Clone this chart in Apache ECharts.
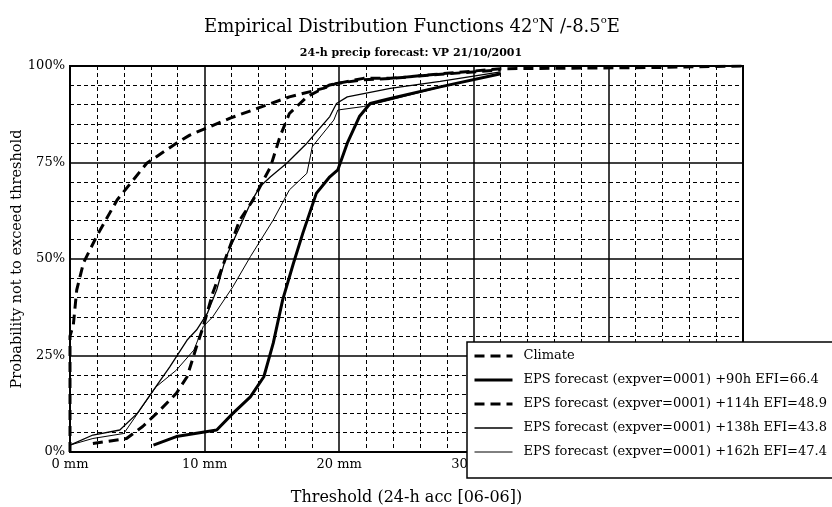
<!DOCTYPE html>
<html>
<head>
<meta charset="utf-8">
<script src="https://cdn.jsdelivr.net/npm/echarts@6/dist/echarts.min.js"></script>
<style>
  html, body { margin: 0; padding: 0; background: #fff; }
  #chart { width: 832px; height: 507px; }
</style>
</head>
<body>
<div id="chart"></div>
<script>
// thresholds (mm) and probability not to exceed (%)
const climate = [[0, 0], [0, 30], [0.25, 33], [0.5, 42], [1, 49], [1.5, 52.5], [2, 56], [3.5, 65.3],
  [5.7, 74.8], [7.9, 80], [8.9, 82.1], [11.9, 86.5], [13.9, 89], [16.3, 92], [18.8, 94.2],
  [19.8, 95.5], [21.8, 96.4], [24, 96.8], [27, 97.8], [32, 99.3], [43.3, 99.6], [50, 100]]
const fc90 = [[6.2, 1.8], [7.9, 4], [10.9, 5.7], [12.1, 10], [13.4, 14.3], [14.4, 19.5], [15.1, 28.2],
  [15.8, 39.4], [16.6, 48.9], [17.3, 56.7], [18.3, 67], [19.3, 71.3], [19.9, 73.1], [20.6, 80],
  [21.5, 86.9], [22.3, 90.3], [23.8, 91.6], [27.5, 94.6], [32, 98]]
const fc114 = [[1.7, 2.2], [4.2, 3.5], [5.4, 6.6], [6.7, 10.9], [7.9, 15.2], [8.7, 19.5], [9.4, 27.3],
  [9.9, 32.5], [10.6, 41.1], [11.6, 50.6], [12.6, 60], [13.6, 65.3], [14.9, 73.9], [15.6, 81.7],
  [16.3, 87.7], [17.6, 92], [19.3, 95.1], [21.8, 96.8], [23.8, 96.8], [27, 97.7], [32, 99]]
const fc138 = [[0, 1.8], [1.7, 4.4], [3.7, 5.7], [5, 10], [6.2, 16], [7.4, 22], [8.7, 29], [9.4, 31.6],
  [10.2, 35.9], [10.9, 42], [11.6, 50.6], [13.4, 64.4], [14.1, 68.7], [14.9, 71.3], [16.1, 74.8],
  [17.6, 80], [19.3, 86.9], [19.8, 90.3], [20.6, 92], [23.8, 94.2], [27.5, 96], [32, 98.5]]
const fc162 = [[0, 1.8], [1.7, 3.5], [4, 4.8], [5.2, 10.9], [6.4, 16.9], [7.9, 21.2], [9.2, 26.4],
  [9.9, 32.5], [10.6, 35], [12.1, 42.8], [13.4, 50.6], [15.1, 60.1], [16.3, 67.9], [17.6, 72.2],
  [17.8, 75.6], [18, 79.1], [19.6, 86], [19.9, 88.6], [21.8, 89.5], [23.8, 91.2], [27.5, 94.5], [32, 98]]

const seriesNames = [
  'Climate',
  'EPS forecast (expver=0001) +90h EFI=66.4',
  'EPS forecast (expver=0001) +114h EFI=48.9',
  'EPS forecast (expver=0001) +138h EFI=43.8',
  'EPS forecast (expver=0001) +162h EFI=47.4'
]

const serif = 'DejaVu Serif'
const chart = echarts.init(document.getElementById('chart'))

function curve(name, data, width, type) {
  return {
    name: name,
    type: 'line',
    data: data,
    symbol: 'none',
    silent: true,
    itemStyle: { color: '#000' },
    lineStyle: { color: '#000', width: width, type: type }
  }
}

chart.setOption({
  animation: false,
  backgroundColor: '#fff',
  title: [
    {
      text: 'Empirical Distribution Functions 42{s|o}N /-8.5{s|o}E',
      left: 407,
      top: 10,
      textAlign: 'center',
      textStyle: {
        fontFamily: serif, fontSize: 18, fontWeight: 'normal', color: '#000', lineHeight: 24,
        rich: { s: { fontFamily: serif, fontSize: 10, color: '#000', lineHeight: 12, verticalAlign: 'top' } }
      }
    },
    {
      text: '24-h precip forecast: VP 21/10/2001',
      left: 406,
      top: 43,
      textAlign: 'center',
      textStyle: { fontFamily: serif, fontSize: 11, fontWeight: 'bold', color: '#000' }
    }
  ],
  grid: {
    left: 70, right: 89, top: 66, bottom: 55,
    containLabel: false,
    outerBoundsMode: 'none',
    show: true,
    borderColor: '#000',
    borderWidth: 2
  },
  legend: {
    data: seriesNames,
    orient: 'vertical',
    left: 467,
    top: 342,
    padding: [6, 40, 18, 6],
    itemWidth: 38,
    itemHeight: 14,
    itemGap: 8,
    backgroundColor: '#fff',
    borderColor: '#000',
    borderWidth: 1.5,
    selectedMode: false,
    itemStyle: { opacity: 0 },
    lineStyle: { width: 'inherit' },
    textStyle: { fontFamily: serif, fontSize: 13, color: '#000', lineHeight: 16, padding: [0, 0, 0, 6] }
  },
  xAxis: {
    type: 'value',
    min: 0,
    max: 50,
    interval: 10,
    name: 'Threshold (24-h acc [06-06])',
    nameLocation: 'middle',
    nameGap: 38,
    nameTextStyle: { fontFamily: serif, fontSize: 16, color: '#000' },
    axisLine: { show: true, lineStyle: { color: '#000', width: 2 } },
    axisTick: { show: false },
    axisLabel: { formatter: '{value} mm', fontFamily: serif, fontSize: 13, color: '#000', margin: 6 },
    splitLine: { show: true, lineStyle: { color: '#000', width: 1.5 } },
    minorTick: { show: false, splitNumber: 5 },
    minorSplitLine: { show: true, lineStyle: { color: '#000', width: 1, type: [4, 3] } }
  },
  yAxis: {
    type: 'value',
    min: 0,
    max: 100,
    interval: 25,
    name: 'Probability not to exceed threshold',
    nameLocation: 'middle',
    nameGap: 45,
    nameMoveOverlap: false,
    nameTextStyle: { fontFamily: serif, fontSize: 14.5, color: '#000' },
    axisLine: { show: true, lineStyle: { color: '#000', width: 2 } },
    axisTick: { show: false },
    axisLabel: { formatter: '{value}%', fontFamily: serif, fontSize: 13, color: '#000', margin: 5 },
    splitLine: { show: true, lineStyle: { color: '#000', width: 1.5 } },
    minorTick: { show: false, splitNumber: 5 },
    minorSplitLine: { show: true, lineStyle: { color: '#000', width: 1, type: [4, 3] } }
  },
  series: [
    curve(seriesNames[0], climate, 3, [10, 6]),
    curve(seriesNames[1], fc90, 3, 'solid'),
    curve(seriesNames[2], fc114, 3, [10, 6]),
    curve(seriesNames[3], fc138, 1.3, 'solid'),
    curve(seriesNames[4], fc162, 1, 'solid')
  ]
})
</script>
</body>
</html>
